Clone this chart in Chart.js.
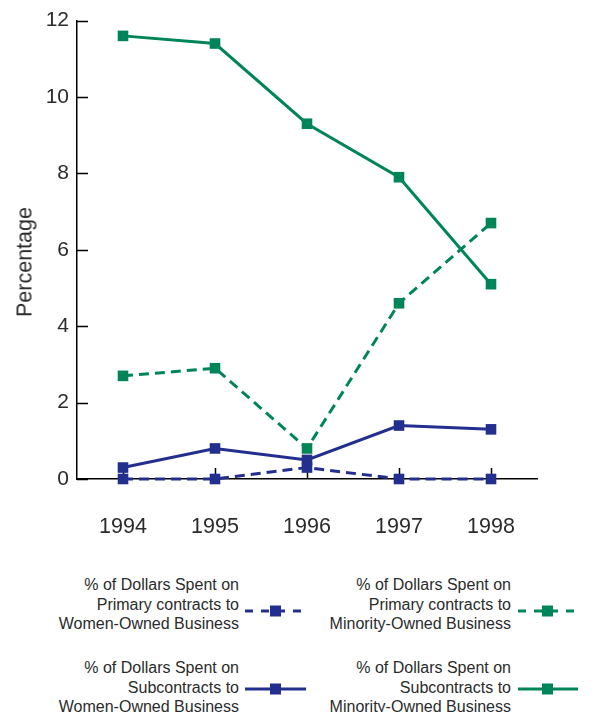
<!DOCTYPE html>
<html>
<head>
<meta charset="utf-8">
<script src="https://cdn.jsdelivr.net/npm/chart.js@4.4.1/dist/chart.umd.min.js"></script>
<style>
  body { margin: 0; background: #fff; width: 603px; height: 712px; position: relative; overflow: hidden;
         font-family: "Liberation Sans", Arial, sans-serif; color: #2b2b2b; }
  #wrap { position: absolute; left: 0; top: 0; width: 603px; height: 545px; }
  .lg { position: absolute; text-align: right; font-size: 16px; line-height: 19.5px; white-space: nowrap; }
  .sw { position: absolute; }
  #ytitle { position: absolute; left: 25px; top: 262px; font-size: 21.5px; white-space: nowrap;
            transform: translate(-50%, -50%) rotate(-90deg); }
</style>
</head>
<body>
<div id="wrap"><canvas id="chart"></canvas></div>
<div id="ytitle">Percentage</div>

<div class="lg" style="right:364px;top:575px">% of Dollars Spent on<br>Primary contracts to<br>Women-Owned Business</div>
<svg class="sw" style="left:245px;top:604px" width="61" height="14">
  <line x1="0" y1="7" x2="61" y2="7" stroke="#232f8e" stroke-width="3" stroke-dasharray="8,8"/>
  <rect x="25" y="1.5" width="11" height="11" fill="#232f8e"/>
</svg>
<div class="lg" style="right:364px;top:658px">% of Dollars Spent on<br>Subcontracts to<br>Women-Owned Business</div>
<svg class="sw" style="left:245px;top:682px" width="61" height="14">
  <line x1="0" y1="7" x2="61" y2="7" stroke="#232f8e" stroke-width="3"/>
  <rect x="25" y="1.5" width="11" height="11" fill="#232f8e"/>
</svg>

<div class="lg" style="right:92px;top:575px">% of Dollars Spent on<br>Primary contracts to<br>Minority-Owned Business</div>
<svg class="sw" style="left:518px;top:604px" width="60" height="14">
  <line x1="0" y1="7" x2="60" y2="7" stroke="#00845a" stroke-width="3" stroke-dasharray="8,8"/>
  <rect x="24" y="1.5" width="11" height="11" fill="#00845a"/>
</svg>
<div class="lg" style="right:92px;top:658px">% of Dollars Spent on<br>Subcontracts to<br>Minority-Owned Business</div>
<svg class="sw" style="left:518px;top:682px" width="60" height="14">
  <line x1="0" y1="7" x2="60" y2="7" stroke="#00845a" stroke-width="3"/>
  <rect x="24" y="1.5" width="11" height="11" fill="#00845a"/>
</svg>

<script>
const years = ['1994', '1995', '1996', '1997', '1998'];
const primaryWomen = [0, 0, 0.3, 0, 0];
const subWomen = [0.3, 0.8, 0.5, 1.4, 1.3];
const primaryMinority = [2.7, 2.9, 0.8, 4.6, 6.7];
const subMinority = [11.6, 11.4, 9.3, 7.9, 5.1];
const yTicks = [0, 2, 4, 6, 8, 10, 12];

const blue = '#232f8e';
const green = '#00845a';
const textColor = '#2b2b2b';

function line(label, data, color, dashed, order) {
    return {
        label: label,
        data: data,
        borderColor: color,
        backgroundColor: color,
        borderWidth: 3,
        borderDash: dashed ? [10, 6] : [],
        pointStyle: 'rect',
        pointRadius: 7.5,
        pointBorderWidth: 0,
        pointBackgroundColor: color,
        tension: 0,
        clip: false,
        order: order
    };
}

// small inward tick marks like the original
const tickMarks = {
    id: 'tickMarks',
    beforeDatasetsDraw(chart) {
        const { ctx, scales: { x, y } } = chart;
        ctx.save();
        ctx.strokeStyle = '#000';
        ctx.lineWidth = 1.5;
        ctx.beginPath();
        yTicks.forEach(v => {
            const py = Math.round(y.getPixelForValue(v)) + 0.5;
            ctx.moveTo(x.left, py);
            ctx.lineTo(x.left + 11, py);
        });
        years.forEach((c, i) => {
            const px = Math.round(x.getPixelForValue(i)) + 0.5;
            ctx.moveTo(px, y.bottom);
            ctx.lineTo(px, y.bottom - 11);
        });
        ctx.stroke();
        ctx.restore();
    }
};

new Chart(document.getElementById('chart'), {
    type: 'line',
    data: {
        labels: years,
        datasets: [
            line('% of Dollars Spent on Primary contracts to Women-Owned Business', primaryWomen, blue, true, 0),
            line('% of Dollars Spent on Subcontracts to Women-Owned Business', subWomen, blue, false, 1),
            line('% of Dollars Spent on Primary contracts to Minority-Owned Business', primaryMinority, green, true, 2),
            line('% of Dollars Spent on Subcontracts to Minority-Owned Business', subMinority, green, false, 3)
        ]
    },
    options: {
        responsive: true,
        maintainAspectRatio: false,
        animation: false,
        layout: { padding: { left: 0, right: 66, top: 19, bottom: 0 } },
        plugins: {
            legend: { display: false },
            tooltip: { enabled: false }
        },
        scales: {
            x: {
                offset: true,
                grid: { display: true, drawOnChartArea: false, drawTicks: false },
                border: { display: true, color: '#000', width: 1.5 },
                ticks: {
                    padding: 35,
                    maxRotation: 0,
                    color: textColor,
                    font: { family: 'Liberation Sans', size: 21.5 }
                },
                afterFit(scale) { scale.height = 66; }
            },
            y: {
                min: 0,
                max: 12,
                afterBuildTicks(scale) { scale.ticks = yTicks.map(v => ({ value: v })); },
                grid: { display: true, drawOnChartArea: false, drawTicks: false },
                border: { display: true, color: '#000', width: 1.5 },
                ticks: {
                    padding: 8,
                    color: textColor,
                    font: { family: 'Liberation Sans', size: 21 }
                },
                afterFit(scale) { scale.width = 77; }
            }
        }
    },
    plugins: [tickMarks]
});
</script>
</body>
</html>
